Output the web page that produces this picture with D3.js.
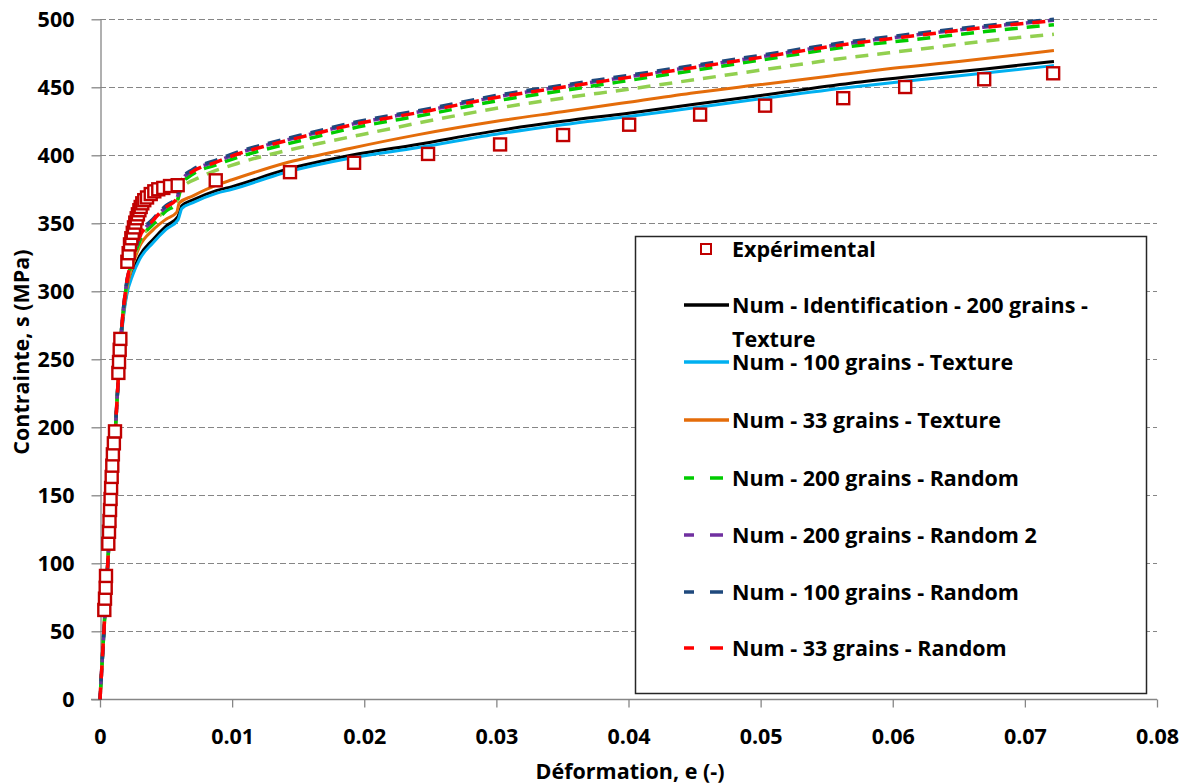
<!DOCTYPE html>
<html>
<head>
<meta charset="utf-8">
<script src="https://cdn.jsdelivr.net/npm/d3@7"></script>
<style>
  html, body { margin: 0; padding: 0; background: #fff; }
  svg { display: block; font-family: "Open Sans", "Liberation Sans", sans-serif; }
</style>
</head>
<body>
<svg id="chart" width="1189" height="784"></svg>
<script>
// ---------- DATA ----------
const xTicks = [0, 0.01, 0.02, 0.03, 0.04, 0.05, 0.06, 0.07, 0.08];
const xTickLabels = ["0", "0.01", "0.02", "0.03", "0.04", "0.05", "0.06", "0.07", "0.08"];
const yTicks = [0, 50, 100, 150, 200, 250, 300, 350, 400, 450, 500];
const yTickLabels = ["0", "50", "100", "150", "200", "250", "300", "350", "400", "450", "500"];

const expStrain = [0.000326, 0.000378, 0.000431, 0.000454, 0.000628, 0.000681, 0.000720, 0.000760, 0.000800, 0.000840,
  0.000885, 0.000930, 0.000975, 0.001050, 0.001135, 0.00139, 0.00144, 0.00149, 0.00154,
  0.00207, 0.00217, 0.00227, 0.00237, 0.00248, 0.00257, 0.00267, 0.00278, 0.00287, 0.00298, 0.00308, 0.00320,
  0.00335, 0.00356, 0.00384, 0.00411, 0.00441, 0.00479, 0.00530, 0.00588, 0.00876, 0.01438, 0.01923, 0.02483,
  0.03028, 0.03505, 0.04005, 0.04542, 0.05034, 0.05625, 0.06094, 0.06692, 0.07214];
const expStress = [65.7, 74, 82, 90.7, 114.4, 123.2, 131.1, 139.2, 147.3, 155.4,
  163.5, 171.8, 180.1, 188.2, 197.0, 240, 248, 257, 265,
  321.7, 328, 334.5, 339, 343, 347, 350.5, 353.7, 356.6, 359.6, 362, 364.7,
  367, 369, 371.5, 373.5, 375, 376, 377.4, 378, 381.6, 387.6, 394.5, 401,
  408, 414.9, 422.5, 429.9, 436.5, 442, 450.2, 455.9, 460.3];

// Num - Identification - 200 grains - Texture (black)
const blackStrain = [0, 0.0005, 0.001, 0.0014, 0.0016, 0.0018, 0.002, 0.0025, 0.003, 0.004, 0.005, 0.0059, 0.0062, 0.007, 0.0088, 0.01, 0.0139, 0.019, 0.024, 0.0303, 0.035, 0.04, 0.045, 0.05, 0.0568, 0.062, 0.067, 0.0722];
const blackStress = [0, 85, 170, 238, 265, 285, 298, 315, 326, 338, 348, 355, 363, 367, 374, 377, 389, 400, 408, 418.5, 425, 431, 437.5, 444, 453, 458.5, 463.5, 469];
// Num - 100 grains - Texture (cyan)
const cyanStrain = [0, 0.0005, 0.001, 0.0014, 0.0016, 0.0018, 0.002, 0.0025, 0.003, 0.004, 0.005, 0.0059, 0.0062, 0.007, 0.0088, 0.01, 0.0139, 0.019, 0.024, 0.0303, 0.035, 0.04, 0.045, 0.05, 0.0568, 0.062, 0.067, 0.0722];
const cyanStress = [0, 85, 170, 238, 264, 283, 296, 312.5, 323.5, 335.5, 345.5, 352.5, 361, 365, 372, 375, 387, 398, 405.5, 416, 422.5, 428.5, 435, 441.5, 450, 455.5, 460.5, 466];
// Num - 33 grains - Texture (orange)
const orangeStrain = [0, 0.0005, 0.001, 0.0014, 0.0016, 0.002, 0.0025, 0.003, 0.004, 0.005, 0.0058, 0.006, 0.007, 0.0088, 0.01, 0.0139, 0.0189, 0.024, 0.030, 0.035, 0.04, 0.045, 0.05, 0.055, 0.06, 0.065, 0.0722];
const orangeStress = [0, 85, 170, 238, 267, 300, 320, 333, 345, 353, 358, 365, 370, 378, 382, 394, 405, 415, 425, 432, 439, 446, 452, 458, 464, 469, 477];
// extra series (light green dashed, not in legend)
const lightGreenStrain = [0, 0.0005, 0.001, 0.0014, 0.0016, 0.002, 0.0025, 0.003, 0.004, 0.005, 0.0058, 0.0062, 0.0076, 0.0104, 0.0139, 0.0177, 0.0207, 0.0242, 0.0303, 0.035, 0.04, 0.045, 0.05, 0.056, 0.062, 0.067, 0.0722];
const lightGreenStress = [0, 85, 170, 238, 268, 303, 322, 336, 350, 360, 366, 376, 384, 394, 403, 411, 417, 424, 435, 442, 448.6, 455.6, 462.6, 471, 478, 484, 489];
// Num - 200 grains - Random (green)
const greenStrain = [0, 0.0005, 0.001, 0.0014, 0.0016, 0.002, 0.0025, 0.003, 0.004, 0.005, 0.0058, 0.0062, 0.007, 0.0088, 0.0106, 0.0126, 0.0159, 0.0189, 0.025, 0.0303, 0.035, 0.04, 0.045, 0.05, 0.056, 0.062, 0.067, 0.0722];
const greenStress = [0, 85, 170, 238, 268, 304, 323, 337, 349, 359, 365, 379, 386, 393, 399, 404.5, 412.5, 419.5, 430.5, 440.5, 447.5, 455, 462.5, 470, 479, 485.5, 491, 496];
// Num - 200 grains - Random 2 (purple)
const purpleStrain = [0, 0.0005, 0.001, 0.0014, 0.0016, 0.002, 0.0025, 0.003, 0.004, 0.005, 0.0058, 0.0062, 0.007, 0.0088, 0.0106, 0.0126, 0.0159, 0.0189, 0.025, 0.0303, 0.035, 0.04, 0.045, 0.05, 0.056, 0.062, 0.067, 0.0722];
const purpleStress = [0, 85, 170, 238, 268, 305, 325, 340, 352, 362, 368, 382, 388.5, 395.5, 402, 407.5, 415.5, 422.5, 433.5, 443.5, 450.5, 457.8, 465.2, 472.5, 481.5, 488.8, 494.3, 499.3];
// Num - 100 grains - Random (dark blue)
const navyStrain = [0, 0.0005, 0.001, 0.0014, 0.0016, 0.002, 0.0025, 0.003, 0.004, 0.005, 0.0058, 0.0062, 0.007, 0.0088, 0.0106, 0.0126, 0.0159, 0.0189, 0.025, 0.0303, 0.035, 0.04, 0.045, 0.05, 0.056, 0.062, 0.067, 0.0722];
const navyStress = [0, 85, 170, 238, 268, 305, 325.5, 341, 353, 363, 369, 383, 389.5, 396.5, 403, 408.5, 416.5, 423.5, 434.5, 444.5, 451.5, 458.8, 466.2, 473.5, 482.5, 489.8, 495.3, 500];
// Num - 33 grains - Random (red)
const redStrain = [0, 0.0005, 0.001, 0.0014, 0.0016, 0.002, 0.0025, 0.003, 0.004, 0.005, 0.0058, 0.0062, 0.007, 0.0088, 0.0106, 0.0126, 0.0159, 0.0189, 0.025, 0.0303, 0.035, 0.04, 0.045, 0.05, 0.056, 0.062, 0.067, 0.0722];
const redStress = [0, 85, 170, 238, 268, 305, 325, 340, 352, 362, 368, 382, 388, 395, 401.5, 407, 415, 422, 433, 443, 450, 457.3, 464.6, 472, 481, 488.3, 494, 499];

const seriesNames = ["Num - Identification - 200 grains - Texture", "Num - 100 grains - Texture", "Num - 33 grains - Texture",
  "", "Num - 200 grains - Random", "Num - 200 grains - Random 2", "Num - 100 grains - Random", "Num - 33 grains - Random"];
const seriesColors = ["#000000", "#00B0F0", "#E46C0A", "#92D050", "#00CC00", "#7030A0", "#1F497D", "#FF0000"];
const seriesDashed = [false, false, false, true, true, true, true, true];
const expName = "Expérimental";
const xTitle = "Déformation, e (-)";
const yTitle = "Contrainte, s (MPa)";

// ---------- CHART ----------
const svg = d3.select("#chart");
const x = d3.scaleLinear().domain([0, 0.08]).range([100, 1157]);
const y = d3.scaleLinear().domain([0, 500]).range([699.3, 19.3]);
const axisColor = "#868686";
const FONT = 21.5;

// grid
svg.append("g").selectAll("line").data(yTicks.filter(d => d > 0)).join("line")
  .attr("x1", x(0)).attr("x2", x(0.08))
  .attr("y1", d => Math.round(y(d)) + 0.5).attr("y2", d => Math.round(y(d)) + 0.5)
  .attr("stroke", axisColor).attr("stroke-width", 1).attr("stroke-dasharray", "6,3");

// axes
const xAxis = d3.axisBottom(x).tickValues(xTicks).tickFormat((d, i) => xTickLabels[i]).tickSize(8).tickSizeOuter(0).tickPadding(21);
const yAxis = d3.axisLeft(y).tickValues(yTicks).tickFormat((d, i) => yTickLabels[i]).tickSize(9).tickSizeOuter(0).tickPadding(17);

const gx = svg.append("g").attr("transform", `translate(0,${Math.round(y(0)) + 0.5})`).call(xAxis);
const gy = svg.append("g").attr("transform", `translate(${Math.round(x(0)) + 0.5},0)`).call(yAxis);
[gx, gy].forEach(g => {
  g.select(".domain").attr("stroke", axisColor).attr("stroke-width", 1.3);
  g.selectAll(".tick line").attr("stroke", axisColor).attr("stroke-width", 1.3);
  g.selectAll(".tick text").attr("fill", "#000").attr("font-size", FONT).attr("font-weight", "bold")
    .attr("font-family", "'Open Sans', sans-serif");
});
gx.select(".domain").attr("d", `M${x(0) - 9},0H${x(0.08)}`);

// axis titles
svg.append("text").attr("x", 630).attr("y", 779).attr("text-anchor", "middle")
  .attr("font-size", FONT).attr("font-weight", "bold").text(xTitle);
svg.append("text").attr("transform", `translate(29,352) rotate(-90)`).attr("text-anchor", "middle")
  .attr("font-size", FONT).attr("font-weight", "bold").text(yTitle);

// legend box (drawn under the curves)
const legend = svg.append("g");
legend.append("rect").attr("x", 635.5).attr("y", 236.5).attr("width", 511).attr("height", 457)
  .attr("fill", "#fff").attr("stroke", "#262626").attr("stroke-width", 1.5);

// curves
const allStrain = [blackStrain, cyanStrain, orangeStrain, lightGreenStrain, greenStrain, purpleStrain, navyStrain, redStrain];
const allStress = [blackStress, cyanStress, orangeStress, lightGreenStress, greenStress, purpleStress, navyStress, redStress];
const line = d3.line().x(d => x(d[0])).y(d => y(d[1])).curve(d3.curveMonotoneX);
const plot = svg.append("g");
allStrain.forEach((xs, i) => {
  const pts = xs.map((v, j) => [v, allStress[i][j]]);
  plot.append("path").datum(pts).attr("d", line)
    .attr("fill", "none").attr("stroke", seriesColors[i])
    .attr("stroke-width", seriesDashed[i] ? 3.5 : 3)
    .attr("stroke-dasharray", seriesDashed[i] ? "13,9" : null)
    .attr("stroke-dashoffset", seriesDashed[i] ? -i * 3 : null)
    .attr("stroke-linejoin", "round");
});

// experimental markers
const expPts = expStrain.map((v, j) => [v, expStress[j]]);
plot.append("g").selectAll("rect").data(expPts).join("rect")
  .attr("x", d => x(d[0]) - 6).attr("y", d => y(d[1]) - 6)
  .attr("width", 12).attr("height", 12)
  .attr("fill", "#fff").attr("stroke", "#C00000").attr("stroke-width", 2.4);

// legend entries
const rowY = [249, 305, 362, 420, 478, 535, 592, 648];
legend.append("rect").attr("x", 701).attr("y", rowY[0] - 5).attr("width", 10).attr("height", 10)
  .attr("fill", "#fff").attr("stroke", "#C00000").attr("stroke-width", 2);
legend.append("text").attr("x", 732).attr("y", rowY[0]).attr("dy", "0.35em")
  .attr("font-size", FONT).attr("font-weight", "bold").text(expName);
const order = [0, 1, 2, 4, 5, 6, 7];
order.forEach((si, k) => {
  const yy = rowY[k + 1];
  legend.append("line").attr("x1", 684).attr("x2", 729).attr("y1", yy).attr("y2", yy)
    .attr("stroke", seriesColors[si]).attr("stroke-width", 3.5)
    .attr("stroke-dasharray", seriesDashed[si] ? "10,16,13" : null);
  const t = legend.append("text").attr("x", 732).attr("y", yy).attr("dy", "0.35em")
    .attr("font-size", FONT).attr("font-weight", "bold");
  if (si === 0) {
    t.append("tspan").text("Num - Identification - 200 grains -");
    t.append("tspan").attr("x", 732).attr("dy", 34).text("Texture");
  } else {
    t.text(seriesNames[si]);
  }
});
</script>
</body>
</html>
